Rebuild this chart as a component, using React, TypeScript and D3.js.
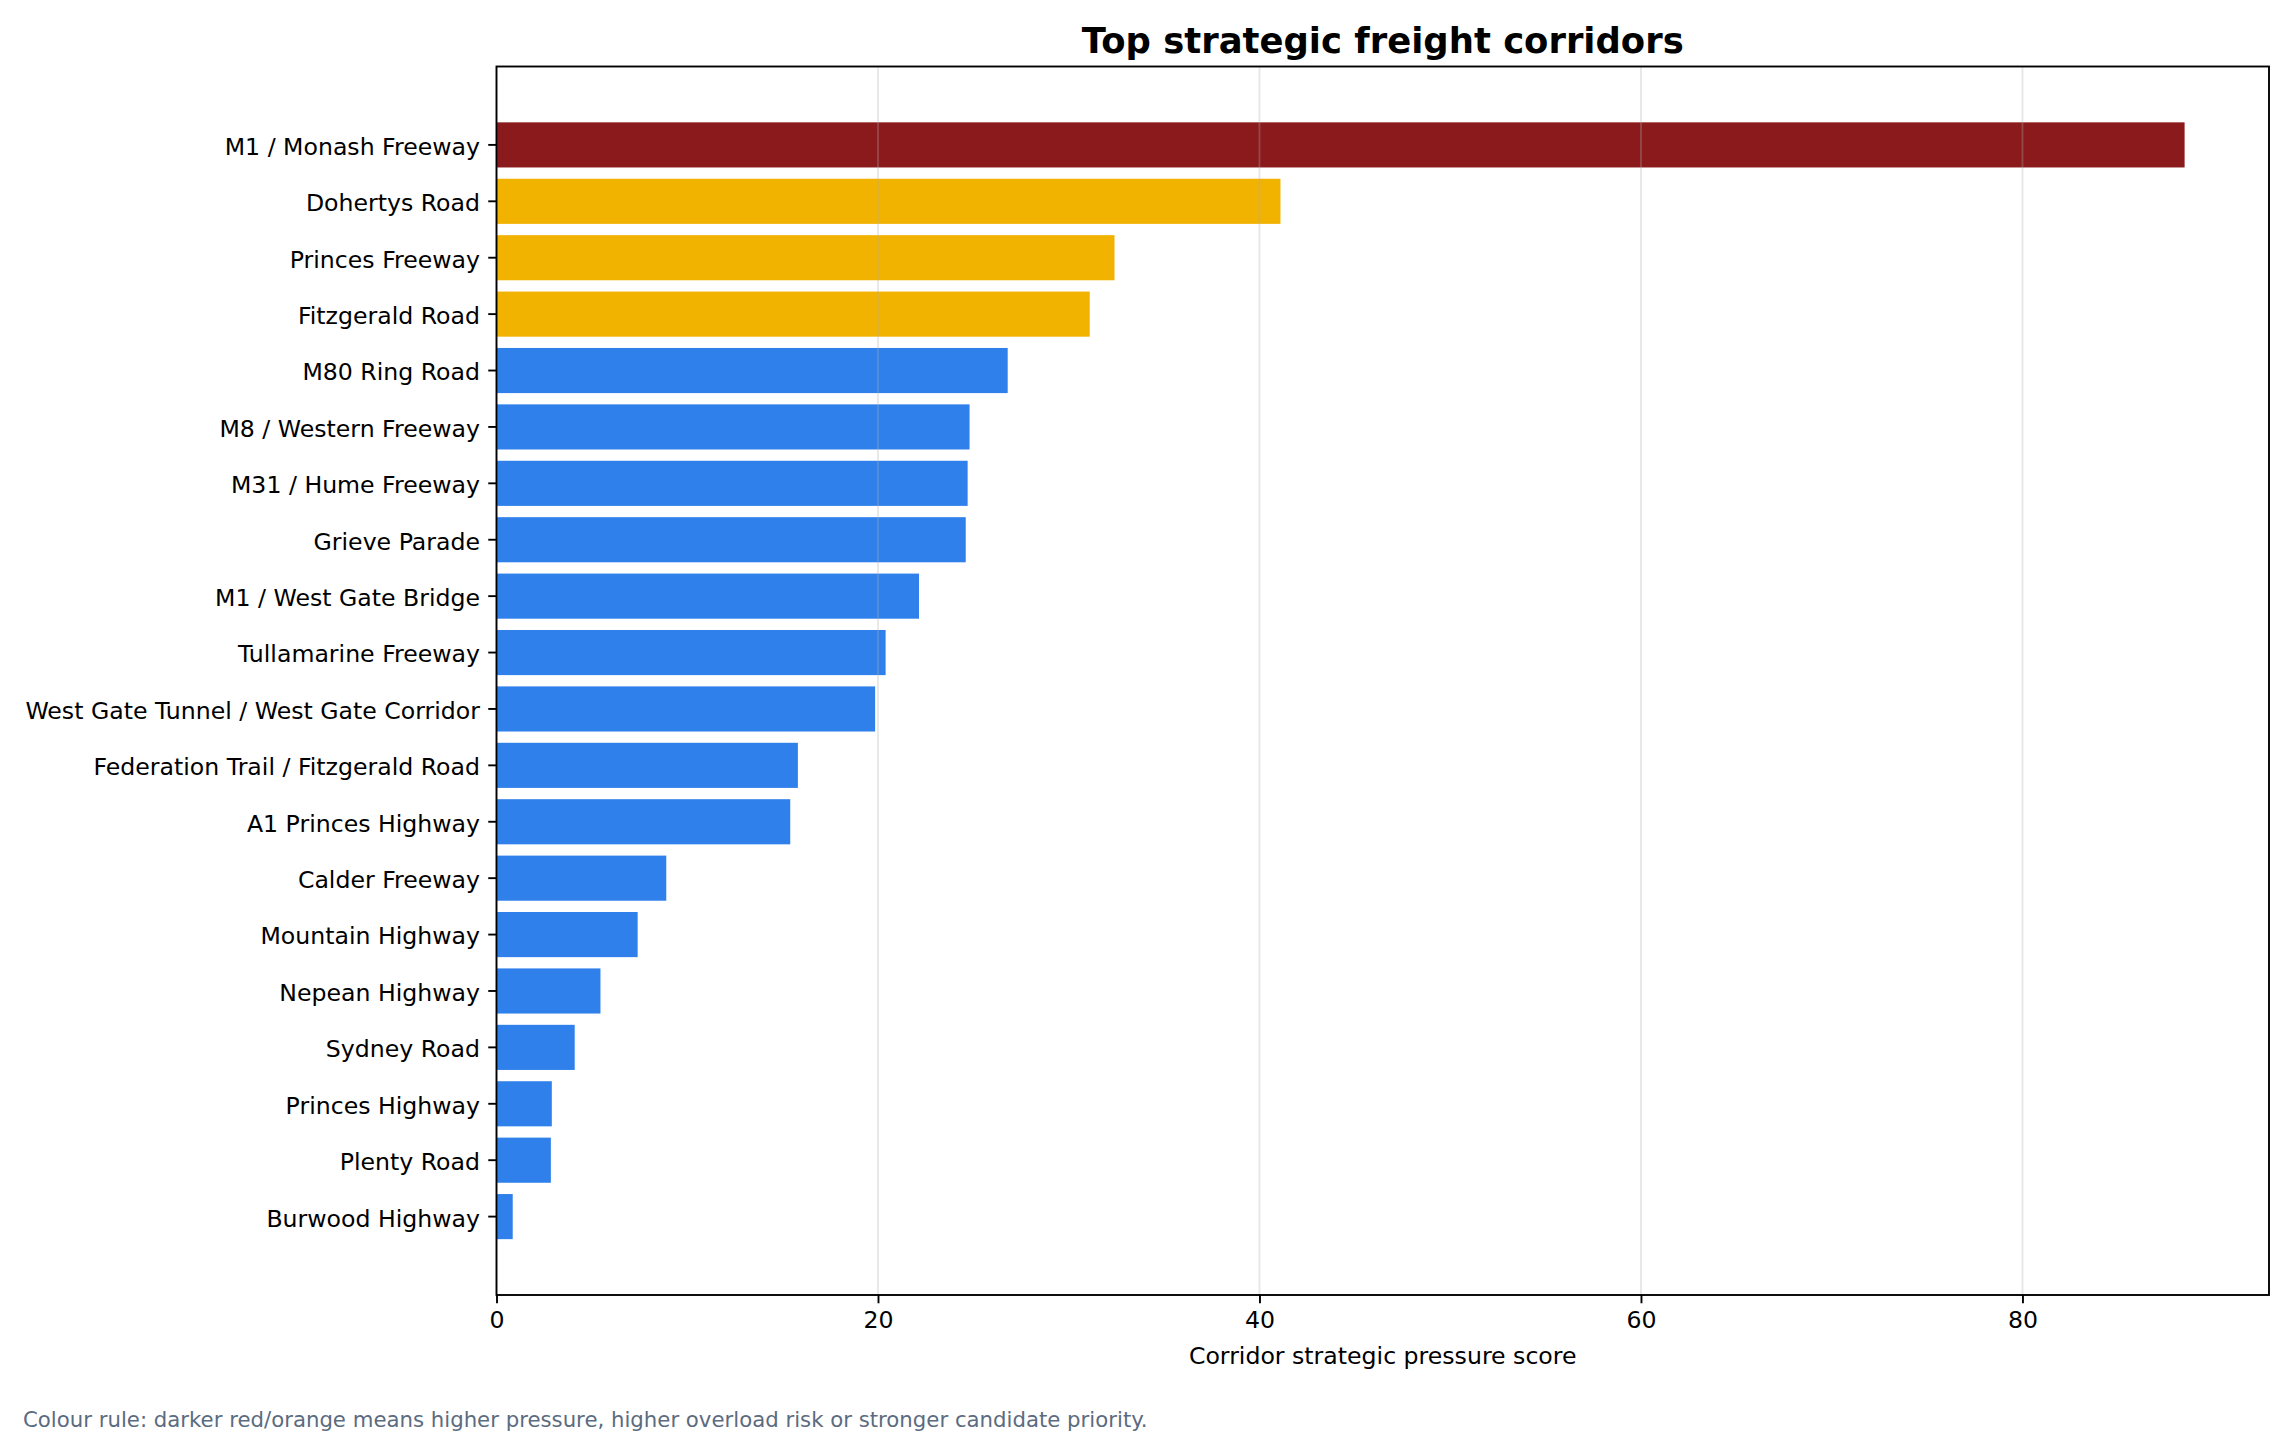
import React, { useEffect, useRef } from 'react';
import * as d3 from 'd3';

// Corridors ranked by strategic pressure score (top first)
const corridors = [
  'M1 / Monash Freeway',
  'Dohertys Road',
  'Princes Freeway',
  'Fitzgerald Road',
  'M80 Ring Road',
  'M8 / Western Freeway',
  'M31 / Hume Freeway',
  'Grieve Parade',
  'M1 / West Gate Bridge',
  'Tullamarine Freeway',
  'West Gate Tunnel / West Gate Corridor',
  'Federation Trail / Fitzgerald Road',
  'A1 Princes Highway',
  'Calder Freeway',
  'Mountain Highway',
  'Nepean Highway',
  'Sydney Road',
  'Princes Highway',
  'Plenty Road',
  'Burwood Highway',
];

const scores = [
  88.5, 41.1, 32.4, 31.1, 26.8, 24.8, 24.7, 24.6, 22.15, 20.4,
  19.85, 15.8, 15.4, 8.9, 7.4, 5.45, 4.1, 2.9, 2.85, 0.85,
];

// pressure tier: 'high' | 'elevated' | 'normal'
const tiers = [
  'high', 'elevated', 'elevated', 'elevated', 'normal', 'normal', 'normal', 'normal', 'normal', 'normal',
  'normal', 'normal', 'normal', 'normal', 'normal', 'normal', 'normal', 'normal', 'normal', 'normal',
];

const xTicks = [0, 20, 40, 60, 80];

const tierColour: Record<string, string> = {
  high: '#8b1a1c',
  elevated: '#f2b200',
  normal: '#2f80eb',
};

const WIDTH = 2295;
const HEIGHT = 1445;
const FONT = '"DejaVu Sans", Verdana, sans-serif';
const PT = 170 / 72; // px per point

const CorridorChart = () => {
  const svgRef = useRef<SVGSVGElement>(null);

  useEffect(() => {
    const svg = d3.select(svgRef.current);
    svg.selectAll('*').remove();

    const margin = { top: 66.5, right: 26, bottom: 150, left: 496.5 };
    const innerWidth = WIDTH - margin.left - margin.right;
    const innerHeight = HEIGHT - margin.top - margin.bottom;
    const lw = 0.8 * PT;
    const tick = 3.5 * PT;

    svg.attr('width', WIDTH).attr('height', HEIGHT);
    svg.append('rect').attr('width', WIDTH).attr('height', HEIGHT).attr('fill', '#fff');

    const g = svg.append('g').attr('transform', `translate(${margin.left},${margin.top})`);

    const data = corridors.map((name, i) => ({ name, score: scores[i], tier: tiers[i] }));

    const xScale = d3.scaleLinear()
      .domain([0, d3.max(scores)! * 1.05])
      .range([0, innerWidth]);

    // 0.8-high bars with 5% margins either side, like a default barh
    const yScale = d3.scaleBand()
      .domain(corridors)
      .range([0, innerHeight])
      .paddingInner(0.2)
      .paddingOuter(0.99);

    // Bars
    g.selectAll('.bar')
      .data(data)
      .enter()
      .append('rect')
      .attr('class', 'bar')
      .attr('x', 0)
      .attr('y', d => yScale(d.name)!)
      .attr('width', d => xScale(d.score))
      .attr('height', yScale.bandwidth())
      .attr('fill', d => tierColour[d.tier]);

    // Vertical grid on top of the bars
    g.selectAll('.grid')
      .data(xTicks)
      .enter()
      .append('line')
      .attr('x1', d => xScale(d))
      .attr('x2', d => xScale(d))
      .attr('y1', 0)
      .attr('y2', innerHeight)
      .attr('stroke', '#b0b0b0')
      .attr('stroke-opacity', 0.3)
      .attr('stroke-width', lw);

    // Frame
    g.append('rect')
      .attr('width', innerWidth)
      .attr('height', innerHeight)
      .attr('fill', 'none')
      .attr('stroke', '#000')
      .attr('stroke-width', lw);

    // X axis
    const xAxis = g.append('g')
      .attr('transform', `translate(0,${innerHeight})`)
      .call(d3.axisBottom(xScale).tickValues(xTicks).tickFormat(d3.format('d')).tickSize(tick).tickPadding(tick));
    xAxis.select('.domain').remove();
    xAxis.selectAll('line').attr('stroke', '#000').attr('stroke-width', lw);
    xAxis.selectAll('text')
      .attr('fill', '#000')
      .style('font-family', FONT)
      .style('font-size', `${10 * PT}px`);

    // Y axis
    const yAxis = g.append('g')
      .call(d3.axisLeft(yScale).tickSize(tick).tickPadding(tick));
    yAxis.select('.domain').remove();
    yAxis.selectAll('line').attr('stroke', '#000').attr('stroke-width', lw);
    yAxis.selectAll('text')
      .attr('fill', '#000')
      .attr('dy', '0.42em')
      .style('font-family', FONT)
      .style('font-size', `${10 * PT}px`);

    // Axis label
    g.append('text')
      .attr('x', innerWidth / 2)
      .attr('y', innerHeight + 69)
      .attr('text-anchor', 'middle')
      .style('font-family', FONT)
      .style('font-size', `${10 * PT}px`)
      .text('Corridor strategic pressure score');

    // Title
    g.append('text')
      .attr('x', innerWidth / 2)
      .attr('y', -14)
      .attr('text-anchor', 'middle')
      .style('font-family', FONT)
      .style('font-size', `${15 * PT}px`)
      .style('font-weight', 'bold')
      .text('Top strategic freight corridors');

    // Footnote
    svg.append('text')
      .attr('x', 23)
      .attr('y', HEIGHT - 18)
      .attr('fill', '#5b6b80')
      .style('font-family', FONT)
      .style('font-size', `${9 * PT}px`)
      .text('Colour rule: darker red/orange means higher pressure, higher overload risk or stronger candidate priority.');
  }, []);

  return (
    <div style={{ position: 'absolute', left: 0, top: 0 }}>
      <svg ref={svgRef} style={{ display: 'block' }}></svg>
    </div>
  );
};

export default function App() {
  return <CorridorChart />;
}
